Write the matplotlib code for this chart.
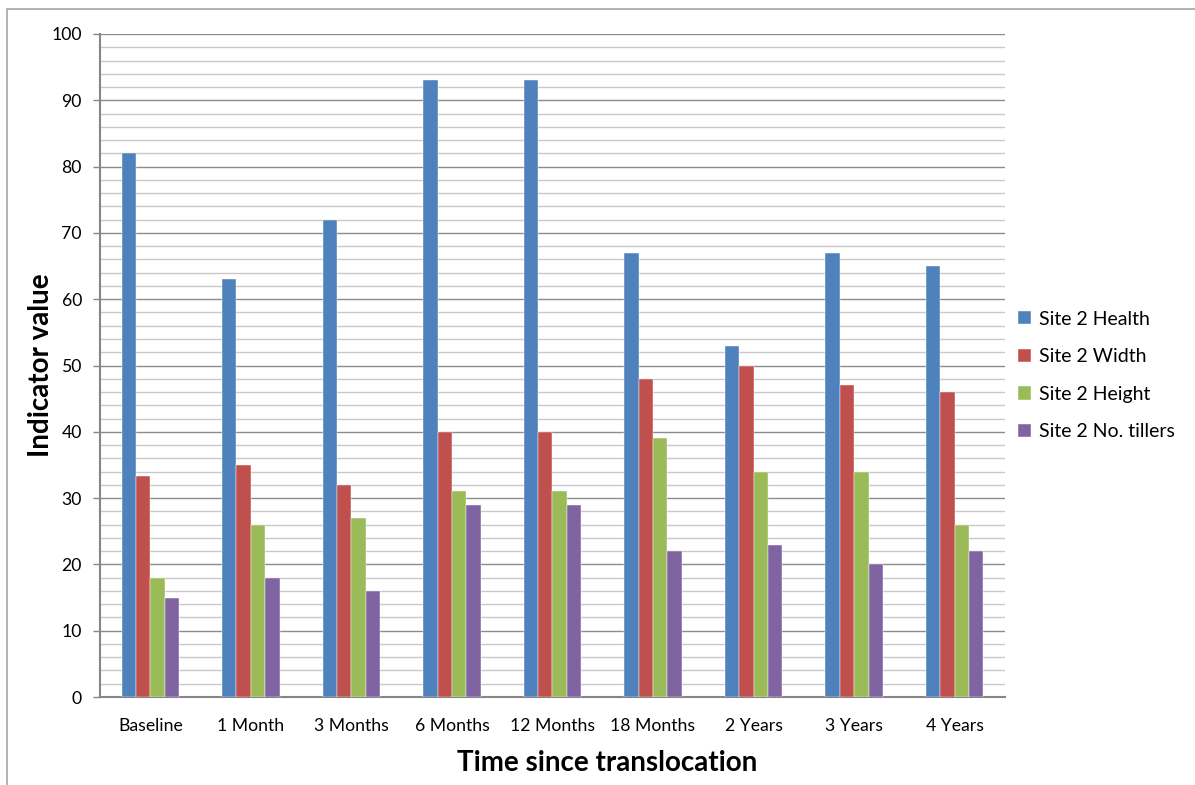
import numpy as np
import matplotlib.pyplot as plt
from matplotlib.patches import Rectangle

plt.rcParams['font.family'] = ['Lato', 'DejaVu Sans']

# time points and indicator values per series
categories = ['Baseline', '1 Month', '3 Months', '6 Months', '12 Months',
              '18 Months', '2 Years', '3 Years', '4 Years']
health = [82, 63, 72, 93, 93, 67, 53, 67, 65]
width = [33.3, 35, 32, 40, 40, 48, 50, 47, 46]
height = [18, 26, 27, 31, 31, 39, 34, 34, 26]
tillers = [15, 18, 16, 29, 29, 22, 23, 20, 22]

series = [
    ('Site 2 Health', health, '#4f81bd'),
    ('Site 2 Width', width, '#c0504d'),
    ('Site 2 Height', height, '#9bbb59'),
    ('Site 2 No. tillers', tillers, '#8064a2'),
]

fig = plt.figure(figsize=(11.95, 7.85), dpi=100)
W, H = 1195, 785
ax = fig.add_axes([100 / W, 1 - 697 / H, 905 / W, 663 / H])

# chart area border (top and left visible)
fig.patches.append(Rectangle((7 / W, -0.1), 1.2, 1.1 - 9 / H, transform=fig.transFigure,
                             fill=False, edgecolor='#a6a6a6', linewidth=1.2))

x = np.arange(len(categories))
bw = 1 / 7  # gap width 300%
for i, (name, vals, col) in enumerate(series):
    ax.bar(x + (i - 1.5) * bw, vals, bw, color=col, label=name,
           edgecolor='white', linewidth=0.3, zorder=3)

ax.set_xlim(-0.5, len(categories) - 0.5)
ax.set_ylim(0, 100)
ax.set_yticks(np.arange(0, 101, 10))
ax.set_yticks(np.arange(0, 101, 2), minor=True)
ax.grid(axis='y', which='major', color='#8c8c8c', linewidth=1.0, zorder=0)
ax.grid(axis='y', which='minor', color='#c8c8c8', linewidth=1.0, zorder=0)
ax.set_xticks(x)
ax.set_xticklabels(categories)
ax.tick_params(axis='x', length=0, pad=15, labelsize=12.7)
ax.tick_params(axis='y', which='major', length=5, width=1, color='#868686',
               labelsize=12.7, pad=8)
ax.tick_params(axis='y', which='minor', length=0)

for s in ['top', 'right']:
    ax.spines[s].set_visible(False)
for s in ['left', 'bottom']:
    ax.spines[s].set_color('#868686')
    ax.spines[s].set_linewidth(1.5)

ax.set_ylabel('Indicator value', fontsize=20, fontweight='bold')
ax.set_xlabel('Time since translocation', fontsize=20, fontweight='bold')
ax.yaxis.set_label_coords(-0.065, 0.5)
ax.xaxis.set_label_coords(0.56, -0.0995)
ax.xaxis.label.set_va('center')
ax.yaxis.label.set_va('center')

ax.legend(loc='center left', bbox_to_anchor=(0.9945, 0.485), frameon=False,
          fontsize=14, handlelength=0.68, handleheight=0.68, labelspacing=1.06,
          handletextpad=0.4)

fig.savefig('out.png', dpi=100)
